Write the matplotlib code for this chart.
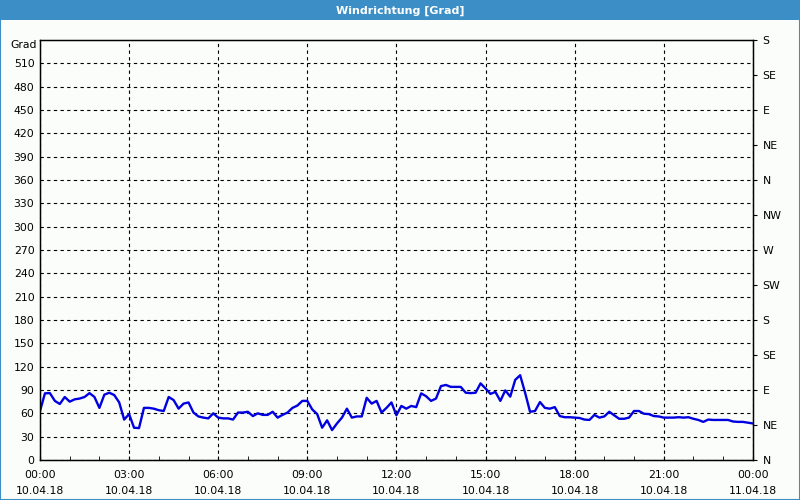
import matplotlib
matplotlib.use("Agg")
import matplotlib.pyplot as plt
import matplotlib.dates as mdates
import matplotlib.patches as mpatches
import pandas as pd

# Windrichtung in Grad, ca. alle 10 Minuten, 10.04.18 00:00 bis 11.04.18 00:00
richtung = [63, 85.7, 86, 76, 72, 81, 75, 78, 79, 81, 86, 81, 67, 84, 86.5, 83.5,
            74, 52, 59, 41.5, 41, 67, 67, 66, 64, 63, 81, 77, 66, 72.5, 74, 61,
            56, 54.5, 53.5, 60, 54.5, 53.5, 53.5, 52, 61, 61, 62, 56.5, 60, 58,
            58, 62, 54.5, 58, 61, 67, 70, 76, 76, 65, 59, 41.5, 51, 38.5, 47,
            54.5, 66, 54.5, 56, 56, 80, 72.5, 76, 61, 67, 74, 57.5, 69.5, 66,
            69.5, 68, 85.7, 82, 76, 79, 95, 96.5, 94, 94, 94, 86.5, 86, 86.5,
            98.5, 92, 85, 87.5, 76, 89.5, 81.5, 103, 109, 86.5, 62, 63, 74.5,
            67, 66, 68, 56.5, 55, 55, 54.5, 54, 52, 51.5, 58, 54.5, 56, 62,
            57.5, 53, 53, 54.5, 63, 63, 59.5, 59, 56.5, 56, 54.5, 54.5, 54.5,
            55, 54.5, 55, 53, 51.5, 49, 52, 51.5, 51.5, 51.5, 51.5, 49.5, 49,
            49, 48, 47]
zeit = pd.date_range("2018-04-10 00:00", "2018-04-11 00:00", periods=len(richtung))

links_ticks = list(range(0, 541, 30))
rechts_ticks = list(range(0, 541, 45))
rechts_labels = ["N", "NE", "E", "SE", "S", "SW", "W", "NW", "N", "NE", "E", "SE", "S"]

plt.rcParams["font.family"] = "DejaVu Sans"
plt.rcParams["font.size"] = 7.8

fig = plt.figure(figsize=(8, 5), dpi=100, facecolor="#fbfdfb")

# Titelleiste
fig.patches.append(mpatches.Rectangle((0, 0.96), 1, 0.04, transform=fig.transFigure,
                                      facecolor="#3c8fc6", edgecolor="none"))
fig.patches.append(mpatches.Rectangle((0.0006, 0.001), 0.9988, 0.998, transform=fig.transFigure,
                                      facecolor="none", edgecolor="#3c8fc6", linewidth=1.5))
fig.text(0.5, 0.979, "Windrichtung [Grad]", color="white", fontweight="bold",
         ha="center", va="center", fontsize=8)

ax = fig.add_axes([0.05, 0.08, 0.891, 0.84])
ax.set_facecolor("#fbfdfb")
ax.plot(zeit, richtung, color="#0000e0", linewidth=1.7)

ax.set_ylim(0, 540)
ax.set_yticks(links_ticks[:-1])
ax.set_xlim(pd.Timestamp("2018-04-10 00:00"), pd.Timestamp("2018-04-11 00:00"))
ax.xaxis.set_major_locator(mdates.HourLocator(byhour=range(0, 24, 3)))
ax.xaxis.set_minor_locator(mdates.HourLocator())
ax.xaxis.set_major_formatter(mdates.DateFormatter("%H:%M\n%d.%m.%y"))
ax.tick_params(axis="x", which="both", direction="in", length=3, pad=7)
ax.tick_params(axis="y", length=0, pad=4)
for lab in ax.get_xticklabels():
    lab.set_linespacing(1.8)

ax.grid(True, color="black", linestyle=(0, (3, 3)), linewidth=0.8)
for sp in ax.spines.values():
    sp.set_color("black")
    sp.set_linewidth(1)

ax.text(-0.005, 0.987, "Grad", transform=ax.transAxes, ha="right", va="center")

ax2 = ax.twinx()
ax2.set_ylim(0, 540)
ax2.set_yticks(rechts_ticks)
ax2.set_yticklabels(rechts_labels)
ax2.tick_params(axis="y", direction="out", length=3, pad=4)

fig.savefig("out.png", dpi=100, facecolor=fig.get_facecolor())
